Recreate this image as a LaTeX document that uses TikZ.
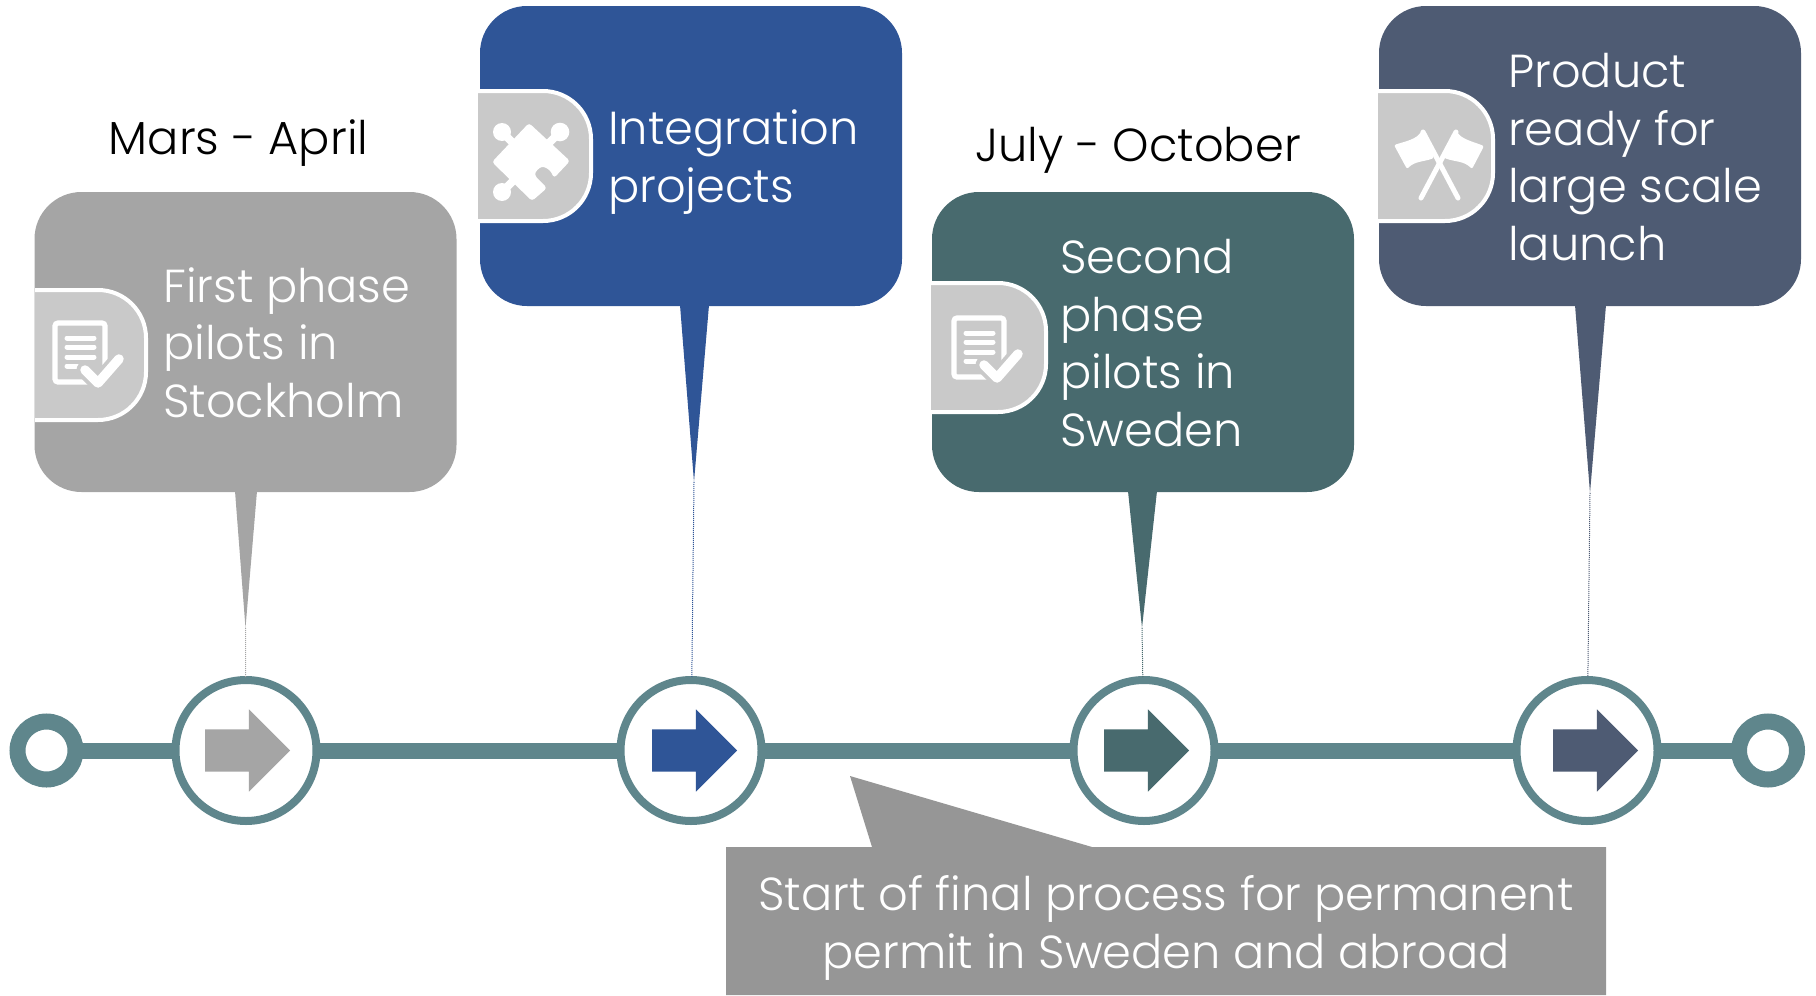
\documentclass[tikz,border=0pt]{standalone}
\usepackage{fontspec}
\usepackage{xcolor}
\usetikzlibrary{shapes.arrows}
\setmainfont{Poppins Light}

\definecolor{greybox}{HTML}{A5A5A5}
\definecolor{bluebox}{HTML}{2F5597}
\definecolor{tealbox}{HTML}{486A6E}
\definecolor{slatebox}{HTML}{4E5B73}
\definecolor{tabgrey}{HTML}{C9C9C9}
\definecolor{trackteal}{HTML}{5F868C}
\definecolor{noteGrey}{HTML}{969696}

\tikzset{
    phasebox/.style={rectangle, rounded corners=47pt, minimum width=422pt, minimum height=300pt, inner sep=0pt},
    tabshape/.style={fill=tabgrey, draw=white, line width=4pt, rounded corners=48pt},
    boxtext/.style={anchor=base west, align=left, inner sep=0pt, text=white, font=\fontsize{46.3}{57.5}\selectfont},
    datetext/.style={inner sep=0pt, text=black, font=\fontsize{46.3}{57.5}\selectfont},
    leader/.style={densely dotted, line width=1pt},
    stepring/.style={circle, draw=trackteal, fill=white, line width=8pt, minimum size=141pt, inner sep=0pt, outer sep=3pt},
    endring/.style={circle, draw=trackteal, fill=white, line width=16pt, minimum size=58pt, inner sep=0pt, outer sep=0pt},
    steparrow/.style={single arrow, single arrow head extend=20pt, single arrow head indent=0pt, minimum width=82pt, minimum height=85pt, inner xsep=0pt, inner ysep=21pt},
    docicon/.pic={
        \draw[white, line width=5.2pt, rounded corners=3pt] (1,1) rectangle (51,60);
        \draw[white, line width=5pt, line cap=round] (13,16) -- (40,16);
        \draw[white, line width=5pt, line cap=round] (13,25) -- (40,25);
        \draw[white, line width=5pt, line cap=round] (13,35) -- (40,35);
        \draw[white, line width=5pt, line cap=round] (13,44) -- (23,44);
        \draw[tabgrey, line width=17pt, line cap=round, line join=round] (31,48) -- (44,61) -- (65,37);
        \draw[white, line width=9.5pt, line cap=round, line join=round] (31,48) -- (44,61) -- (65,37);
    },
    puzzleicon/.pic={
        \fill[white, rounded corners=3pt] (44,13) -- (85,51) -- (69,68) -- (65,60) -- (57,56) -- (50,62) -- (50,66) -- (62,78) -- (47,91) -- (7,52) -- cycle;
        \fill[white] (75,22) circle (9.3);
        \fill[white] (17,22) circle (9);
        \fill[white] (17,82) circle (9);
        \draw[white, line width=8pt] (75,22) -- (60,37);
        \draw[white, line width=8pt] (17,22) -- (32,37);
        \draw[white, line width=8pt] (17,82) -- (32,67);
    },
    flagicon/.pic={
        \draw[white, line width=5pt, line cap=round] (38,17) -- (73,83);
        \draw[white, line width=5pt, line cap=round] (71,17) -- (36,83);
        \fill[white, rounded corners=2pt] (37,15) .. controls (32,24) and (22,26) .. (9,30) -- (22,54) .. controls (30,46) and (38,47) .. (49,43) -- cycle;
        \fill[white, rounded corners=2pt] (71,15) .. controls (76,24) and (86,26) .. (99,31) -- (87,54) .. controls (79,46) and (71,47) .. (59,43) -- cycle;
    }
}

\begin{document}
\begin{tikzpicture}[x=1pt, y=-1pt]
    \useasboundingbox (0,0) rectangle (1816,996);

    % timeline
    \node (startring) [endring] at (46.5,750.5) {};
    \node (stepone) [stepring] at (246,750.5) {};
    \node (steptwo) [stepring] at (691,750.5) {};
    \node (stepthree) [stepring] at (1144,750.5) {};
    \node (stepfour) [stepring] at (1587,750.5) {};
    \node (endring) [endring] at (1768,750.5) {};
    \draw[trackteal, line width=16pt] (startring) -- (stepone) -- (steptwo) -- (stepthree) -- (stepfour) -- (endring);

    \node (arrowone) [steparrow, fill=greybox] at (237,750.5) {};
    \node (arrowtwo) [steparrow, fill=bluebox] at (684,750.5) {};
    \node (arrowthree) [steparrow, fill=tealbox] at (1136,750.5) {};
    \node (arrowfour) [steparrow, fill=slatebox] at (1585,750.5) {};

    % pointers
    \coordinate (tipone) at (245.5,628);
    \coordinate (tiptwo) at (694,482);
    \coordinate (tipthree) at (1142,628);
    \coordinate (tipfour) at (1590,493);
    \fill[greybox] (235,491) -- (tipone) -- (257,491) -- cycle;
    \fill[bluebox] (680,305) -- (tiptwo) -- (709,305) -- cycle;
    \fill[tealbox] (1128,491) -- (tipthree) -- (1157,491) -- cycle;
    \fill[slatebox] (1575,305) -- (tipfour) -- (1606,305) -- cycle;
    \draw[leader, greybox] (tipone) -- (stepone);
    \draw[leader, bluebox] (tiptwo) -- (steptwo);
    \draw[leader, tealbox] (tipthree) -- (stepthree);
    \draw[leader, slatebox] (tipfour) -- (stepfour);

    % phase boxes
    \node (boxone) [phasebox, fill=greybox] at (245.5,342) {};
    \node (boxtwo) [phasebox, fill=bluebox] at (691,156) {};
    \node (boxthree) [phasebox, fill=tealbox] at (1143,342) {};
    \node (boxfour) [phasebox, fill=slatebox] at (1590,156) {};

    \draw[tabshape] (35,290) -- (146,290) -- (146,420) -- (35,420);
    \draw[tabshape] (478,91) -- (591,91) -- (591,221) -- (478,221);
    \draw[tabshape] (931,283) -- (1046,283) -- (1046,412) -- (931,412);
    \draw[tabshape] (1378,91) -- (1493,91) -- (1493,221) -- (1378,221);

    \pic at (54,322) {docicon};
    \pic at (485,110) {puzzleicon};
    \pic at (953,317) {docicon};
    \pic at (1385,115) {flagicon};

    \node (textone) [boxtext] at (163,417) {First phase\\pilots in\\Stockholm};
    \node (texttwo) [boxtext] at (608,202) {Integration\\projects};
    \node (textthree) [boxtext] at (1060,446) {Second\\phase\\pilots in\\Sweden};
    \node (textfour) [boxtext] at (1508,260) {Product\\ready for\\large scale\\launch};

    \node (dateone) [datetext] at (238.5,143.5) {Mars - April};
    \node (datethree) [datetext] at (1138,150.5) {July - October};

    % permit note
    \fill[noteGrey] (726,847) -- (872,847) -- (850,776) -- (1092,847) -- (1606,847) -- (1606,995) -- (726,995) -- cycle;
    \node (notetext) [boxtext, anchor=base, align=center] at (1166,968) {Start of final process for permanent\\permit in Sweden and abroad};
\end{tikzpicture}
\end{document}
